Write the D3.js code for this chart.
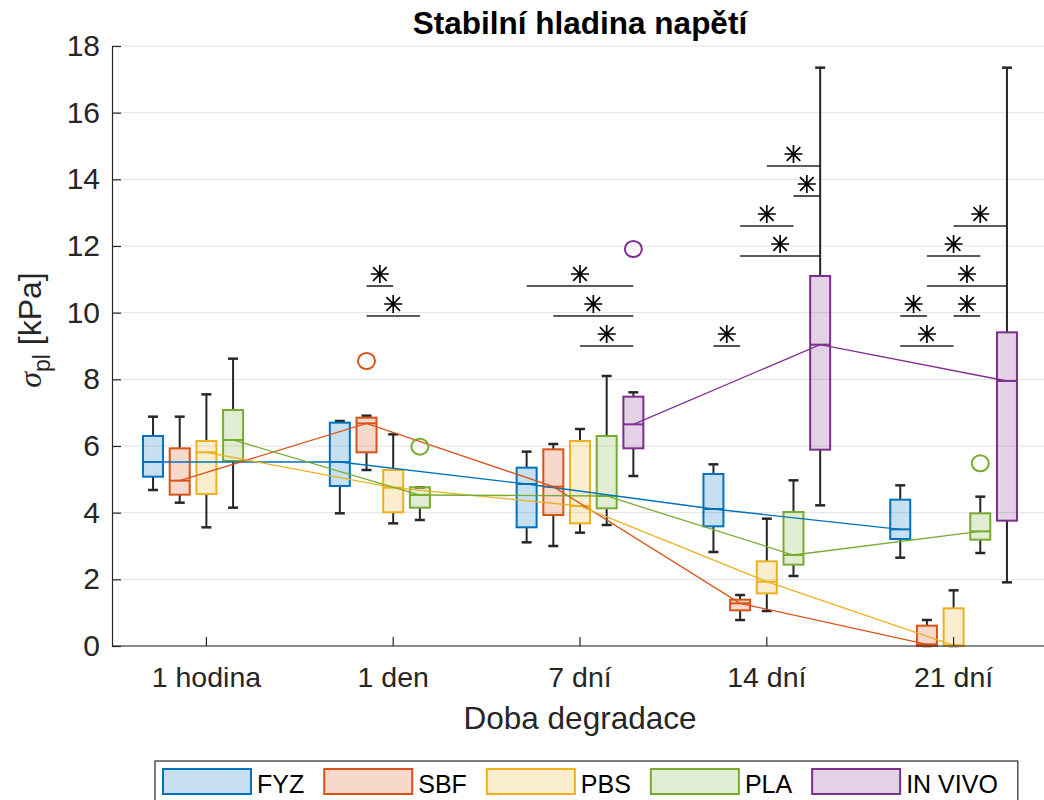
<!DOCTYPE html>
<html>
<head>
<meta charset="utf-8">
<script src="https://cdn.jsdelivr.net/npm/d3@7"></script>
<style>
  body { margin: 0; background: #fff; }
  svg { font-family: "Liberation Sans", Arial, sans-serif; }
</style>
</head>
<body>
<svg id="chart" width="1044" height="800"></svg>
<script>
// categories and groups
const categories = ["1 hodina", "1 den", "7 dní", "14 dní", "21 dní"];
const series = ["FYZ", "SBF", "PBS", "PLA", "IN VIVO"];
const seriesColors = ["#0072BD", "#D95319", "#EDB120", "#77AC30", "#7E2F8E"];
const yTicks = [0, 2, 4, 6, 8, 10, 12, 14, 16, 18];

// box stats per category: [whisker low, q1, median, q3, whisker high]
const fyzStats = [
  [4.68, 5.08, 5.52, 6.30, 6.88],
  [3.98, 4.80, 5.52, 6.70, 6.75],
  [3.11, 3.56, 4.86, 5.35, 5.83],
  [2.82, 3.59, 4.11, 5.16, 5.45],
  [2.65, 3.21, 3.50, 4.39, 4.82]
];
const sbfStats = [
  [4.30, 4.54, 4.96, 5.93, 6.88],
  [5.28, 5.81, 6.68, 6.85, 6.91],
  [3.00, 3.93, 4.78, 5.90, 6.06],
  [0.78, 1.07, 1.28, 1.39, 1.53],
  [0.00, 0.00, 0.05, 0.61, 0.78]
];
const pbsStats = [
  [3.56, 4.56, 5.81, 6.15, 7.55],
  [3.68, 4.01, 4.75, 5.28, 6.35],
  [3.40, 3.68, 4.20, 6.15, 6.51],
  [1.05, 1.58, 1.93, 2.54, 3.82],
  [0.00, 0.00, 0.02, 1.13, 1.67]
];
const plaStats = [
  [4.15, 5.55, 6.18, 7.08, 8.62],
  [3.78, 4.15, 4.53, 4.76, 4.76],
  [3.63, 4.13, 4.50, 6.30, 8.10],
  [2.10, 2.44, 2.73, 4.02, 4.97],
  [2.79, 3.19, 3.44, 3.98, 4.48]
];
const invivoStats = [
  null,
  null,
  [5.10, 5.93, 6.65, 7.48, 7.61],
  [4.22, 5.89, 9.04, 11.10, 17.35],
  [1.91, 3.76, 7.95, 9.41, 17.35]
];

const outliers = [
  { series: "SBF", cat: "1 den", value: 8.55 },
  { series: "PLA", cat: "1 den", value: 5.98 },
  { series: "IN VIVO", cat: "7 dní", value: 11.91 },
  { series: "PLA", cat: "21 dní", value: 5.48 }
];

// significance bars between two groups within a category
const sigBars = [
  { cat: "1 den", from: "SBF", to: "PBS", level: 10.8 },
  { cat: "1 den", from: "SBF", to: "PLA", level: 9.9 },
  { cat: "7 dní", from: "FYZ", to: "IN VIVO", level: 10.8 },
  { cat: "7 dní", from: "SBF", to: "IN VIVO", level: 9.9 },
  { cat: "7 dní", from: "PBS", to: "IN VIVO", level: 9.0 },
  { cat: "14 dní", from: "PBS", to: "IN VIVO", level: 14.4 },
  { cat: "14 dní", from: "PLA", to: "IN VIVO", level: 13.5 },
  { cat: "14 dní", from: "SBF", to: "PLA", level: 12.6 },
  { cat: "14 dní", from: "SBF", to: "IN VIVO", level: 11.7 },
  { cat: "14 dní", from: "FYZ", to: "SBF", level: 9.0 },
  { cat: "21 dní", from: "PBS", to: "IN VIVO", level: 12.6 },
  { cat: "21 dní", from: "SBF", to: "PLA", level: 11.7 },
  { cat: "21 dní", from: "SBF", to: "IN VIVO", level: 10.8 },
  { cat: "21 dní", from: "FYZ", to: "SBF", level: 9.9 },
  { cat: "21 dní", from: "PBS", to: "PLA", level: 9.9 },
  { cat: "21 dní", from: "FYZ", to: "PBS", level: 9.0 }
];

const allStats = [fyzStats, sbfStats, pbsStats, plaStats, invivoStats];

const svg = d3.select("#chart"),
      axisColor = "#262626",
      plotLeft = 112, plotTop = 46, plotBottom = 646, plotRight = 1044;

const x = d3.scaleBand().domain(categories).range([113, 1047]);
const xs = d3.scaleBand().domain(series).range([-66.7, 66.7]);
const y = d3.scaleLinear().domain([0, 18]).range([plotBottom, plotTop]);
const color = d3.scaleOrdinal().domain(series).range(seriesColors);
const cx = (cat, s) => x(cat) + x.bandwidth() / 2 + xs(s) + xs.bandwidth() / 2;

// grid
svg.append("g")
  .selectAll("line")
  .data(yTicks)
  .join("line")
    .attr("x1", plotLeft).attr("x2", plotRight)
    .attr("y1", d => y(d)).attr("y2", d => y(d))
    .attr("stroke", "#e3e3e3").attr("stroke-width", 1);

// flatten boxes
const boxes = [];
series.forEach((s, si) => {
  allStats[si].forEach((st, ci) => {
    if (st) boxes.push({ s, cat: categories[ci], lo: st[0], q1: st[1], med: st[2], q3: st[3], hi: st[4] });
  });
});

const boxW = 20, capW = 10;
const gBox = svg.append("g");

// whiskers
gBox.selectAll("line.wh-up")
  .data(boxes.filter(d => d.hi > d.q3))
  .join("line")
    .attr("class", "wh-up")
    .attr("x1", d => cx(d.cat, d.s)).attr("x2", d => cx(d.cat, d.s))
    .attr("y1", d => y(d.q3)).attr("y2", d => y(d.hi))
    .attr("stroke", axisColor).attr("stroke-width", 2);
gBox.selectAll("line.wh-lo")
  .data(boxes.filter(d => d.lo < d.q1))
  .join("line")
    .attr("class", "wh-lo")
    .attr("x1", d => cx(d.cat, d.s)).attr("x2", d => cx(d.cat, d.s))
    .attr("y1", d => y(d.q1)).attr("y2", d => y(d.lo))
    .attr("stroke", axisColor).attr("stroke-width", 2);
// caps
gBox.selectAll("line.cap")
  .data(boxes.flatMap(d => [{ d, v: d.hi }, { d, v: d.lo }]))
  .join("line")
    .attr("class", "cap")
    .attr("x1", e => cx(e.d.cat, e.d.s) - capW / 2).attr("x2", e => cx(e.d.cat, e.d.s) + capW / 2)
    .attr("y1", e => y(e.v)).attr("y2", e => y(e.v))
    .attr("stroke", axisColor).attr("stroke-width", 2.5);

// boxes
gBox.selectAll("rect")
  .data(boxes)
  .join("rect")
    .attr("x", d => cx(d.cat, d.s) - boxW / 2)
    .attr("width", boxW)
    .attr("y", d => y(d.q3))
    .attr("height", d => Math.max(0, y(d.q1) - y(d.q3)))
    .attr("fill", d => color(d.s)).attr("fill-opacity", 0.22)
    .attr("stroke", d => color(d.s)).attr("stroke-width", 2);

// medians
gBox.selectAll("line.med")
  .data(boxes)
  .join("line")
    .attr("class", "med")
    .attr("x1", d => cx(d.cat, d.s) - boxW / 2).attr("x2", d => cx(d.cat, d.s) + boxW / 2)
    .attr("y1", d => y(d.med)).attr("y2", d => y(d.med))
    .attr("stroke", d => color(d.s)).attr("stroke-width", 2);

// trend lines through medians
const line = d3.line().x(d => cx(d.cat, d.s)).y(d => y(d.med));
svg.append("g")
  .selectAll("path")
  .data(series.map(s => boxes.filter(b => b.s === s)))
  .join("path")
    .attr("d", line)
    .attr("fill", "none")
    .attr("stroke", d => color(d[0].s))
    .attr("stroke-width", 1.3);

// outliers
svg.append("g")
  .selectAll("ellipse")
  .data(outliers)
  .join("ellipse")
    .attr("cx", d => cx(d.cat, d.series)).attr("cy", d => y(d.value))
    .attr("rx", 8.5).attr("ry", 8)
    .attr("fill", "none")
    .attr("stroke", d => color(d.series)).attr("stroke-width", 2);

// significance bars + asterisks
const gSig = svg.append("g");
gSig.selectAll("line")
  .data(sigBars)
  .join("line")
    .attr("x1", d => cx(d.cat, d.from)).attr("x2", d => cx(d.cat, d.to))
    .attr("y1", d => y(d.level)).attr("y2", d => y(d.level))
    .attr("stroke", axisColor).attr("stroke-width", 1.6);

const star = (sx, sy) => {
  const a = 9, b = 6.8;
  return `M${sx},${sy - a}L${sx},${sy + a}M${sx - a},${sy}L${sx + a},${sy}` +
         `M${sx - b},${sy - b}L${sx + b},${sy + b}M${sx - b},${sy + b}L${sx + b},${sy - b}`;
};
gSig.selectAll("path")
  .data(sigBars)
  .join("path")
    .attr("d", d => star((cx(d.cat, d.from) + cx(d.cat, d.to)) / 2, y(d.level) - 12))
    .attr("stroke", "#000").attr("stroke-width", 1.7).attr("fill", "none");

// axes
const yAxis = svg.append("g")
  .attr("transform", `translate(${plotLeft},0)`)
  .call(d3.axisLeft(y).tickValues(yTicks).tickSize(-9).tickSizeOuter(0).tickPadding(12));
const xAxis = svg.append("g")
  .attr("transform", `translate(0,${plotBottom})`)
  .call(d3.axisBottom(x).tickSize(-9).tickSizeOuter(0).tickPadding(21));
[yAxis, xAxis].forEach(g => {
  g.selectAll("path.domain").attr("stroke", axisColor).attr("stroke-width", 1.2);
  g.selectAll(".tick line").attr("stroke", axisColor).attr("stroke-width", 1.2);
  g.selectAll(".tick text").attr("fill", axisColor).attr("font-family", "Liberation Sans, Arial, sans-serif");
});
yAxis.selectAll(".tick text").attr("font-size", 30);
xAxis.selectAll(".tick text").attr("font-size", 28.5);
xAxis.select("path.domain").attr("d", `M${plotLeft},0H${plotRight}`);

// title and labels
svg.append("text")
  .attr("x", 580).attr("y", 34)
  .attr("text-anchor", "middle")
  .attr("font-size", 31.5).attr("font-weight", "bold")
  .attr("fill", "#000")
  .text("Stabilní hladina napětí");

svg.append("text")
  .attr("x", 580).attr("y", 729)
  .attr("text-anchor", "middle")
  .attr("font-size", 31.5)
  .attr("fill", axisColor)
  .text("Doba degradace");

const yl = svg.append("text")
  .attr("transform", "translate(41,330) rotate(-90)")
  .attr("text-anchor", "middle")
  .attr("font-size", 32)
  .attr("fill", axisColor);
yl.append("tspan").attr("font-style", "italic").attr("font-family", "Liberation Serif, serif").text("σ");
yl.append("tspan").attr("font-size", 23).attr("dy", 9).text("pl");
yl.append("tspan").attr("dy", -9).text(" [kPa]");

// legend
const gLeg = svg.append("g");
const legBox = gLeg.append("rect")
  .attr("x", 155).attr("y", 761).attr("height", 60)
  .attr("fill", "#fff").attr("stroke", axisColor).attr("stroke-width", 1.2);
let lx = 163;
series.forEach(s => {
  gLeg.append("rect")
    .attr("x", lx).attr("y", 769).attr("width", 88).attr("height", 25)
    .attr("fill", color(s)).attr("fill-opacity", 0.22)
    .attr("stroke", color(s)).attr("stroke-width", 2);
  const t = gLeg.append("text")
    .attr("x", lx + 94).attr("y", 793)
    .attr("font-size", 25).attr("fill", "#000")
    .text(s);
  lx += 94 + t.node().getComputedTextLength() + 20;
});
legBox.attr("width", lx - 155);
</script>
</body>
</html>
